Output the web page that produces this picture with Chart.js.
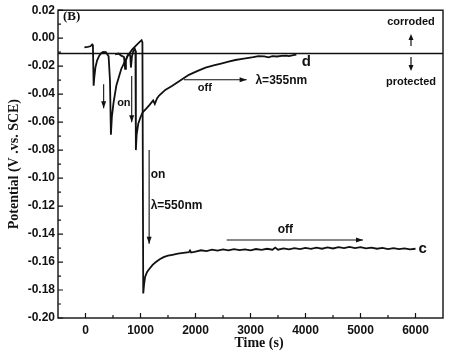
<!DOCTYPE html>
<html><head><meta charset="utf-8">
<script src="https://cdn.jsdelivr.net/npm/chart.js@4"></script>
<style>html,body{margin:0;padding:0;background:#fff}#wrap{width:449px;height:356px}</style>
</head><body><div id="wrap"><canvas id="c" width="449" height="356"></canvas></div>
<script>
// ---- data ----
const xTicks = [0, 1000, 2000, 3000, 4000, 5000, 6000];
const yTicks = [0.02, 0.00, -0.02, -0.04, -0.06, -0.08, -0.10, -0.12, -0.14, -0.16, -0.18, -0.20];
const thresholdLevel = -0.011;

// curve c (lambda = 550 nm)
const cTime = [-20, 40, 90, 120, 135, 148, 160, 180, 210, 250, 290, 320, 370, 420, 445, 462, 480, 510, 560, 650, 760, 850, 940, 990, 1020, 1035,
  1050, 1065, 1085, 1120, 1160, 1220, 1280, 1350, 1420, 1500, 1580, 1680, 1780, 1880, 1900, 1920,
  2000, 2100, 2200, 2300, 2400, 2500, 2600, 2700, 2800, 2900, 3000, 3100, 3200, 3300, 3400, 3450, 3500, 3600, 3700, 3800, 3900,
  4000, 4100, 4200, 4300, 4400, 4500, 4600, 4700, 4800, 4900, 5000, 5100, 5200, 5300, 5400, 5500, 5600, 5700, 5800, 5900, 6000];
const cPotential = [-0.0065, -0.0062, -0.0058, -0.0045, -0.0055, -0.0340, -0.0280, -0.0210, -0.0160, -0.0125, -0.0105, -0.0098, -0.0100, -0.0130, -0.0300, -0.0690, -0.0560, -0.0460, -0.0340, -0.0220, -0.0130, -0.0080, -0.0045, -0.0025, -0.0015, -0.0030,
  -0.1825, -0.1760, -0.1705, -0.1670, -0.1650, -0.1620, -0.1600, -0.1580, -0.1565, -0.1555, -0.1548, -0.1540, -0.1535, -0.1530, -0.1518, -0.1532,
  -0.1525, -0.1516, -0.1522, -0.1512, -0.1519, -0.1510, -0.1517, -0.1508, -0.1515, -0.1509, -0.1516, -0.1507, -0.1513, -0.1505, -0.1512, -0.1497, -0.1512, -0.1503, -0.1510, -0.1501, -0.1508,
  -0.1499, -0.1506, -0.1497, -0.1505, -0.1496, -0.1503, -0.1494, -0.1501, -0.1492, -0.1500, -0.1493, -0.1502, -0.1497, -0.1505, -0.1499, -0.1507, -0.1501, -0.1508, -0.1502, -0.1509, -0.1505];

// curve d (lambda = 355 nm)
const dTime = [540, 600, 650, 700, 720, 735, 770, 800, 815, 826, 845, 870, 895, 908, 916, 930, 960, 1000, 1040, 1100, 1157, 1230, 1260, 1300, 1338, 1450, 1579, 1730, 1880, 2030, 2183, 2330, 2483, 2600, 2725, 2850, 2966, 3050, 3146, 3250, 3327, 3400, 3480, 3562, 3650, 3700, 3780, 3834];
const dPotential = [-0.0115, -0.0110, -0.0125, -0.0135, -0.0220, -0.0160, -0.0120, -0.0110, -0.0130, -0.0210, -0.0130, -0.0090, -0.0075, -0.0090, -0.0800, -0.0690, -0.0610, -0.0565, -0.0530, -0.0505, -0.0480, -0.0445, -0.0470, -0.0430, -0.0410, -0.0370, -0.0340, -0.0300, -0.0262, -0.0235, -0.0210, -0.0195, -0.0180, -0.0168, -0.0156, -0.0148, -0.0140, -0.0135, -0.0128, -0.0130, -0.0137, -0.0128, -0.0131, -0.0126, -0.0124, -0.0128, -0.0121, -0.0118];

// annotation arrows (data units): [t1, v1, t2, v2]
const arrows = [
  [330, -0.033, 330, -0.050],
  [840, -0.027, 840, -0.060],
  [1157, -0.080, 1157, -0.147],
  [1790, -0.0297, 2930, -0.0297],
  [2568, -0.1442, 5045, -0.1442]
];
// annotation texts (data units): [text, t, v, align, size]
const notes = [
  ['on', 575, -0.0465, 'left', 11],
  ['on', 1185, -0.0974, 'left', 12],
  ['\u03bb=550nm', 1185, -0.1200, 'left', 12],
  ['off', 2170, -0.0359, 'center', 11],
  ['\u03bb=355nm', 3090, -0.0302, 'left', 12],
  ['off', 3635, -0.1370, 'center', 12],
  ['d', 4015, -0.0168, 'center', 15],
  ['c', 6130, -0.1505, 'center', 15]
];

const ink = '#111';
const toPts = (ts, vs) => ts.map((t, i) => ({x: t, y: vs[i]}));

function arrowHead(ctx, x1, y1, x2, y2, len, half) {
  const a = Math.atan2(y2 - y1, x2 - x1);
  ctx.beginPath();
  ctx.moveTo(x2, y2);
  ctx.lineTo(x2 - len * Math.cos(a) + half * Math.sin(a), y2 - len * Math.sin(a) - half * Math.cos(a));
  ctx.lineTo(x2 - len * Math.cos(a) - half * Math.sin(a), y2 - len * Math.sin(a) + half * Math.cos(a));
  ctx.closePath();
  ctx.fill();
}

const decor = {
  id: 'decor',
  afterDraw(chart) {
    const {ctx, chartArea: a, scales: {x, y}} = chart;
    ctx.save();
    ctx.strokeStyle = ink; ctx.fillStyle = ink;
    // frame
    ctx.lineWidth = 1.4;
    ctx.strokeRect(a.left, a.top, a.right - a.left, a.bottom - a.top);
    // inward ticks
    ctx.lineWidth = 1.2;
    ctx.beginPath();
    yTicks.forEach((v, i) => {
      const py = y.getPixelForValue(v);
      ctx.moveTo(a.left, py); ctx.lineTo(a.left + 5, py);
      if (i < yTicks.length - 1) {
        const pm = y.getPixelForValue((v + yTicks[i + 1]) / 2);
        ctx.moveTo(a.left, pm); ctx.lineTo(a.left + 3, pm);
      }
    });
    xTicks.forEach((v, i) => {
      const px = x.getPixelForValue(v);
      ctx.moveTo(px, a.bottom); ctx.lineTo(px, a.bottom - 5);
      if (i < xTicks.length - 1) {
        const pm = x.getPixelForValue((v + xTicks[i + 1]) / 2);
        ctx.moveTo(pm, a.bottom); ctx.lineTo(pm, a.bottom - 3);
      }
    });
    ctx.stroke();
    // arrows
    ctx.lineWidth = 1.1;
    arrows.forEach(([t1, v1, t2, v2]) => {
      const x1 = x.getPixelForValue(t1), y1 = y.getPixelForValue(v1);
      const x2 = x.getPixelForValue(t2), y2 = y.getPixelForValue(v2);
      ctx.beginPath(); ctx.moveTo(x1, y1); ctx.lineTo(x2, y2); ctx.stroke();
      arrowHead(ctx, x1, y1, x2, y2, 7, 2.5);
    });
    // texts
    ctx.textBaseline = 'middle';
    notes.forEach(([txt, t, v, al, sz]) => {
      ctx.font = 'bold ' + sz + 'px "Liberation Sans", Arial, sans-serif';
      ctx.textAlign = al;
      ctx.fillText(txt, x.getPixelForValue(t), y.getPixelForValue(v));
    });
    // corroded / protected
    const cx = 411;
    ctx.font = 'bold 11px "Liberation Sans", Arial, sans-serif';
    ctx.textAlign = 'center';
    ctx.fillText('corroded', cx, 22);
    ctx.fillText('protected', cx, 82);
    ctx.lineWidth = 1.2;
    ctx.beginPath(); ctx.moveTo(cx, 46); ctx.lineTo(cx, 38); ctx.stroke();
    arrowHead(ctx, cx, 46, cx, 34, 6, 2.5);
    ctx.beginPath(); ctx.moveTo(cx, 57); ctx.lineTo(cx, 65); ctx.stroke();
    arrowHead(ctx, cx, 57, cx, 71, 6, 2.5);
    // panel label
    ctx.font = 'bold 13px "Liberation Serif", "Times New Roman", serif';
    ctx.textAlign = 'left';
    ctx.fillText('(B)', 63, 17);
    // axis titles
    ctx.font = 'bold 14px "Liberation Serif", "Times New Roman", serif';
    ctx.textAlign = 'center';
    ctx.fillText('Time (s)', 259, 343);
    ctx.save();
    ctx.translate(14, (a.top + a.bottom) / 2);
    ctx.rotate(-Math.PI / 2);
    ctx.fillText('Potential (V .vs. SCE)', 0, 0);
    ctx.restore();
    ctx.restore();
  }
};

const tickFont = {family: '"Liberation Sans", Arial, sans-serif', size: 12, weight: 'bold'};

new Chart(document.getElementById('c'), {
  type: 'line',
  data: {
    datasets: [
      {data: toPts(cTime, cPotential), borderColor: ink, borderWidth: 1.8, pointRadius: 0, tension: 0},
      {data: toPts(dTime, dPotential), borderColor: ink, borderWidth: 1.8, pointRadius: 0, tension: 0},
      {data: [{x: -500, y: thresholdLevel}, {x: 6500, y: thresholdLevel}], borderColor: ink, borderWidth: 1.5, pointRadius: 0}
    ]
  },
  options: {
    responsive: false,
    animation: false,
    events: [],
    layout: {padding: {top: 7, right: 6, left: 0, bottom: 0}},
    plugins: {legend: {display: false}, tooltip: {enabled: false}},
    scales: {
      x: {
        type: 'linear', min: -500, max: 6500,
        afterBuildTicks: s => { s.ticks = xTicks.map(v => ({value: v})); },
        afterFit: s => { s.height = 38; },
        grid: {display: false, drawTicks: false},
        border: {display: false},
        ticks: {color: ink, font: tickFont, padding: 5, maxRotation: 0, autoSkip: false, callback: v => String(v)}
      },
      y: {
        type: 'linear', min: -0.20, max: 0.02,
        afterBuildTicks: s => { s.ticks = yTicks.map(v => ({value: v})); },
        afterFit: s => { s.width = 58; },
        grid: {display: false, drawTicks: false},
        border: {display: false},
        ticks: {color: ink, font: tickFont, padding: 3, autoSkip: false,
          callback: v => (Math.abs(v) < 1e-9 ? 0 : v).toFixed(2)}
      }
    }
  },
  plugins: [decor]
});
</script>
</body></html>
